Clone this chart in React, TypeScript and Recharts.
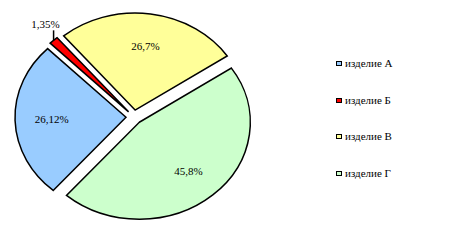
import React from "react";
import { PieChart, Pie, Cell, Legend } from "recharts";

const categories = ["изделие А", "изделие Б", "изделие В", "изделие Г"];
const shares = [26.12, 1.35, 26.7, 45.8];
const colors = ["#99CCFF", "#FF0000", "#FFFF99", "#CCFFCC"];

const data = categories.map((name, i) => ({ name, value: shares[i] }));

const KX = 111 / 97;
const EXPLODE = 7;
const RAD = Math.PI / 180;
const FONT = '"Liberation Serif", "Times New Roman", serif';

const fmt = (v: number) => String(v).replace(".", ",") + "%";

function pt(cx: number, cy: number, r: number, a: number) {
  return [cx + r * KX * Math.cos(a * RAD), cy - r * Math.sin(a * RAD)];
}

function offsetCenter(cx: number, cy: number, mid: number) {
  return [cx + EXPLODE * KX * Math.cos(mid * RAD), cy - EXPLODE * Math.sin(mid * RAD)];
}

const EllipseSector = (props: any) => {
  const { cx, cy, outerRadius, startAngle, endAngle, fill } = props;
  const mid = (startAngle + endAngle) / 2;
  const [ox, oy] = offsetCenter(cx, cy, mid);
  const [sx, sy] = pt(ox, oy, outerRadius, startAngle);
  const [ex, ey] = pt(ox, oy, outerRadius, endAngle);
  const large = Math.abs(startAngle - endAngle) > 180 ? 1 : 0;
  const sweep = startAngle > endAngle ? 1 : 0;
  const d = `M${ox},${oy} L${sx},${sy} A${outerRadius * KX},${outerRadius} 0 ${large} ${sweep} ${ex},${ey} Z`;
  return <path d={d} fill={fill} stroke="#000" strokeWidth={1.5} strokeLinejoin="miter" />;
};

const renderLabel = (props: any) => {
  const { cx, cy, midAngle, outerRadius, value } = props;
  const [ox, oy] = offsetCenter(cx, cy, midAngle);
  if (value < 5) {
    const [tx, ty] = pt(ox, oy, outerRadius, midAngle);
    return (
      <g>
        <line x1={tx} y1={ty} x2={tx} y2={ty - 10} stroke="#000" strokeWidth={1.5} />
        <text x={tx - 8} y={ty - 16} textAnchor="middle" dominantBaseline="central" fontFamily={FONT} fontSize={11} fill="#000">
          {fmt(value)}
        </text>
      </g>
    );
  }
  const [lx, ly] = pt(ox, oy, outerRadius * 0.67, midAngle);
  return (
    <text x={lx} y={ly} textAnchor="middle" dominantBaseline="central" fontFamily={FONT} fontSize={11} fill="#000">
      {fmt(value)}
    </text>
  );
};

const LegendContent = () => (
  <div style={{ fontFamily: FONT, fontSize: 11, color: "#000" }}>
    {categories.map((c, i) => (
      <div key={c} style={{ height: 36.7, display: "flex", alignItems: "flex-start" }}>
        <span
          style={{
            display: "inline-block",
            width: 4,
            height: 3,
            border: "1.5px solid #000",
            background: colors[i],
            marginTop: 4,
            marginRight: 3,
          }}
        />
        <span style={{ lineHeight: "12px" }}>{c}</span>
      </div>
    ))}
  </div>
);

export default function App() {
  return (
    <div style={{ position: "absolute", left: 0, top: 0, background: "#fff" }}>
      <PieChart width={469} height={240} margin={{ top: 0, right: 0, bottom: 0, left: 0 }}>
        <Pie
          data={data}
          dataKey="value"
          nameKey="name"
          cx={134}
          cy={117}
          outerRadius={97}
          startAngle={229}
          endAngle={-131}
          shape={EllipseSector}
          label={renderLabel}
          labelLine={false}
          isAnimationActive={false}
        >
          {data.map((d, i) => (
            <Cell key={d.name} fill={colors[i]} />
          ))}
        </Pie>
        <Legend
          content={<LegendContent />}
          wrapperStyle={{ position: "absolute", left: 336, top: 57, width: 120 }}
        />
      </PieChart>
    </div>
  );
}
